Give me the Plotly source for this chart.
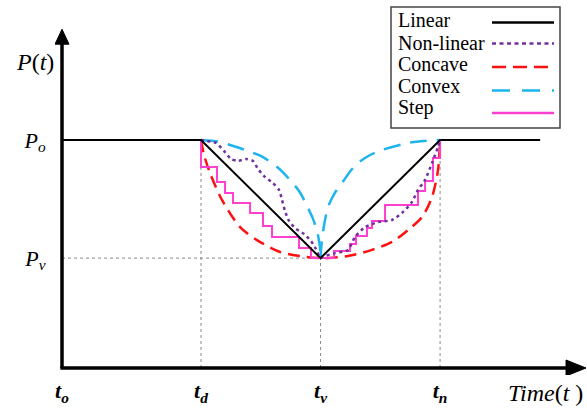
import plotly.graph_objects as go

# ---- key time / level values ----
T_O, T_D, T_V, T_N, T_END = 0.0, 10.0, 18.6, 27.2, 34.4
P_O, P_V = 100.0, 48.2
X_TIP, Y_TIP = 37.7, 148.6

tick_t_vals = [T_O, T_D, T_V, T_N]
tick_t_text = ["<b><i>t<sub>o</sub></i></b>", "<b><i>t<sub>d</sub></i></b>",
               "<b><i>t<sub>v</sub></i></b>", "<b><i>t<sub>n</sub></i></b>"]
tick_p_vals = [P_V, P_O]
tick_p_text = ["<i>P<sub>v</sub></i>", "<i>P<sub>o</sub></i>"]

# ---- series ----
linear_t = [T_O, T_D, T_V, T_N, T_END]
linear_p = [P_O, P_O, P_V, P_O, P_O]

nonlin_t = [10.0, 10.36, 11.08, 11.65, 12.16, 12.66, 13.24, 13.74, 14.10, 14.60, 15.18,
            15.61, 15.83, 16.04, 16.33, 16.76, 17.41, 17.91, 18.27, 18.6,
            18.71, 19.64, 20.58, 21.08, 21.80, 22.73, 23.74, 24.46, 25.18, 25.61,
            26.12, 26.62, 27.05, 27.2]
nonlin_p = [100.0, 99.6, 98.7, 95.2, 91.7, 90.8, 91.7, 90.8, 87.3, 83.8, 81.1,
            78.1, 73.7, 68.9, 64.5, 61.4, 58.8, 55.7, 52.2, 48.2,
            48.7, 50.4, 51.8, 57.5, 61.8, 64.0, 64.9, 68.0, 72.8, 78.1,
            82.5, 89.9, 96.9, 100.0]

concave_t = [10.0, 10.22, 10.65, 11.51, 12.81, 14.03, 15.68, 17.12, 18.6,
             19.14, 20.58, 22.30, 23.74, 24.89, 25.90, 26.62, 27.05, 27.2]
concave_p = [100.0, 93.4, 85.5, 73.7, 61.8, 56.1, 50.9, 49.1, 48.2,
             48.2, 49.1, 51.8, 55.3, 60.5, 66.2, 75.0, 86.8, 100.0]

convex_left_t = [10.0, 11.2, 12.09, 13.2, 14.46, 15.6, 16.40, 17.1, 17.63, 18.05, 18.35, 18.56, 18.6]
convex_left_p = [100.0, 99.3, 97.8, 95.6, 92.5, 87.5, 82.5, 77.2, 71.0, 65.5, 60.0, 53.0, 48.2]
convex_right_t = [18.6, 18.68, 18.85, 19.14, 19.6, 20.14, 20.7, 21.29, 22.1, 23.02, 24.89, 26.0, 27.2]
convex_right_p = [48.2, 55.0, 62.5, 70.6, 76.5, 81.1, 86.0, 89.9, 93.2, 95.6, 98.7, 99.6, 100.0]

step_left_t = [10.0, 11.15, 11.73, 12.30, 13.53, 14.46, 15.11, 17.05, 17.91, 18.6]
step_left_p = [100.0, 88.2, 81.6, 76.8, 72.4, 68.0, 62.3, 57.5, 52.6, 48.2]
step_right_t = [18.6, 19.57, 20.72, 21.15, 21.94, 22.30, 23.24, 25.61, 26.12, 26.69, 27.2]
step_right_p = [48.2, 51.3, 54.4, 57.9, 61.4, 64.5, 71.5, 77.6, 82.0, 92.1, 100.0]

legend_names = ["Linear", "Non-linear", "Concave", "Convex", "Step"]

BLACK, PURPLE, RED, CYAN, PINK = "#000000", "#7030A0", "#FF1010", "#1EB4EE", "#FF3FD0"
FONT = "Liberation Serif"

fig = go.Figure()

fig.add_trace(go.Scatter(x=concave_t, y=concave_p, mode="lines",
                         line=dict(color=RED, width=2.5, dash="12px,7px", shape="spline", smoothing=0.8)))
fig.add_trace(go.Scatter(x=convex_left_t, y=convex_left_p, mode="lines",
                         line=dict(color=CYAN, width=2.5, dash="17px,10px", shape="spline", smoothing=0.8)))
fig.add_trace(go.Scatter(x=convex_right_t, y=convex_right_p, mode="lines",
                         line=dict(color=CYAN, width=2.5, dash="17px,10px", shape="spline", smoothing=0.8)))
fig.add_trace(go.Scatter(x=step_left_t, y=step_left_p, mode="lines",
                         line=dict(color=PINK, width=2, shape="vh")))
fig.add_trace(go.Scatter(x=step_right_t, y=step_right_p, mode="lines",
                         line=dict(color=PINK, width=2, shape="hv")))
fig.add_trace(go.Scatter(x=nonlin_t, y=nonlin_p, mode="lines",
                         line=dict(color=PURPLE, width=2.5, dash="3px,3.5px", shape="spline", smoothing=0.6)))
fig.add_trace(go.Scatter(x=linear_t, y=linear_p, mode="lines",
                         line=dict(color=BLACK, width=2)))

shapes = []
guide = dict(color="#8a8a8a", width=1, dash="dot")
for tx, top in [(T_D, P_O), (T_V, P_V), (T_N, P_O)]:
    shapes.append(dict(type="line", xref="x", yref="y", x0=tx, x1=tx, y0=0, y1=top,
                       line=guide, layer="below"))
shapes.append(dict(type="line", xref="x", yref="y", x0=T_O, x1=T_V, y0=P_V, y1=P_V,
                   line=guide, layer="below"))

# axes with arrows
shapes.append(dict(type="line", xref="x", yref="y", x0=T_O, x1=T_O, y0=0, y1=Y_TIP - 5,
                   line=dict(color=BLACK, width=3.5)))
shapes.append(dict(type="line", xref="x", yref="y", x0=T_O - 0.12, x1=X_TIP - 1.0, y0=0, y1=0,
                   line=dict(color=BLACK, width=3.5)))
shapes.append(dict(type="path", xref="x", yref="y", xsizemode="pixel", ysizemode="pixel",
                   xanchor=T_O, yanchor=Y_TIP, path="M 0 0 L -7 -15 L 7 -15 Z",
                   fillcolor=BLACK, line=dict(color=BLACK, width=1)))
shapes.append(dict(type="path", xref="x", yref="y", xsizemode="pixel", ysizemode="pixel",
                   xanchor=X_TIP, yanchor=0, path="M 0 0 L -20 8 L -20 -8 Z",
                   fillcolor=BLACK, line=dict(color=BLACK, width=1)))

# manual legend (text left, sample right)
def PX(x):
    return (x - 55) / 532.0

def PY(y):
    return (375 - y) / 349.0

shapes.append(dict(type="rect", xref="paper", yref="paper", x0=PX(391), x1=PX(560),
                   y0=PY(128), y1=PY(7), line=dict(color="#444444", width=1.5),
                   fillcolor="white"))
sample_styles = [dict(color=BLACK, width=2.5),
                 dict(color=PURPLE, width=2.5, dash="4px,3.5px"),
                 dict(color=RED, width=2.5, dash="14px,7px"),
                 dict(color=CYAN, width=2.5, dash="18px,12px"),
                 dict(color=PINK, width=2.5)]
sample_y = [22.5, 43.5, 67, 90.5, 113]
text_y = [20, 43, 64, 86, 108]
annotations = []
for name, st, sy, ty in zip(legend_names, sample_styles, sample_y, text_y):
    shapes.append(dict(type="line", xref="paper", yref="paper", x0=PX(492), x1=PX(554),
                       y0=PY(sy), y1=PY(sy), line=st))
    annotations.append(dict(xref="paper", yref="paper", x=PX(396), y=PY(ty), text=name,
                            showarrow=False, xanchor="left", yanchor="middle",
                            font=dict(family=FONT, size=20, color=BLACK)))

annotations.append(dict(xref="x", yref="y", x=T_O, y=134.2, text="<i>P</i>(<i>t</i>)",
                        showarrow=False, xanchor="right", yanchor="middle", xshift=-6,
                        font=dict(family=FONT, size=24, color=BLACK)))
annotations.append(dict(xref="paper", yref="paper", x=PX(545), y=PY(393),
                        text="<i>Time</i>(<i>t</i> )",
                        showarrow=False, xanchor="center", yanchor="middle",
                        font=dict(family=FONT, size=24, color=BLACK)))

fig.update_layout(
    width=587, height=408,
    margin=dict(l=55, r=0, t=26, b=33, autoexpand=False),
    paper_bgcolor="white", plot_bgcolor="white",
    showlegend=False,
    shapes=shapes, annotations=annotations,
    xaxis=dict(range=[-0.504, 37.77], showgrid=False, zeroline=False, showline=False,
               automargin=False,
               tickmode="array", tickvals=tick_t_vals, ticktext=tick_t_text,
               ticks="",
               tickfont=dict(family=FONT, size=22, color=BLACK), fixedrange=True),
    yaxis=dict(range=[-3.07, 150.0], showgrid=False, zeroline=False, showline=False,
               automargin=False,
               tickmode="array", tickvals=tick_p_vals, ticktext=tick_p_text,
               ticks="outside", ticklen=4, tickcolor="rgba(0,0,0,0)",
               tickfont=dict(family=FONT, size=22, color=BLACK), fixedrange=True),
)

fig.write_html("out.html", config={"displayModeBar": False},
               post_script="document.body.style.margin='0px';document.body.style.overflow='hidden';")
